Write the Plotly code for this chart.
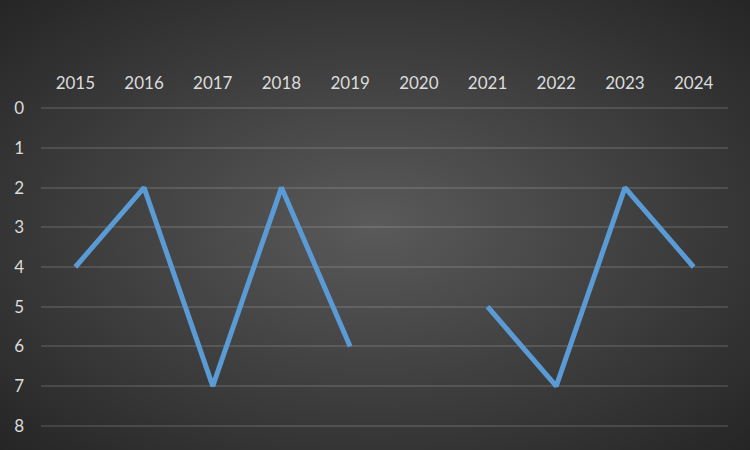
import plotly.graph_objects as go
import base64

years = ["2015", "2016", "2017", "2018", "2019", "2020", "2021", "2022", "2023", "2024"]
values = [4, 2, 7, 2, 6, None, 5, 7, 2, 4]
y_ticks = [0, 1, 2, 3, 4, 5, 6, 7, 8]

W, H = 750, 450
L, R, T, B = 41, 22, 107, 23
pw, ph = W - L - R, H - T - B

svg = f'''<svg xmlns="http://www.w3.org/2000/svg" width="{W}" height="{H}" viewBox="0 0 {W} {H}" preserveAspectRatio="none">
<defs><radialGradient id="g" cx="50%" cy="50%" r="75%" fx="50%" fy="50%">
<stop offset="0%" stop-color="#5a5a5a"/><stop offset="100%" stop-color="#222222"/></radialGradient></defs>
<rect width="{W}" height="{H}" fill="url(#g)"/></svg>'''
uri = "data:image/svg+xml;base64," + base64.b64encode(svg.encode()).decode()

fig = go.Figure()
fig.add_trace(go.Scatter(
    x=years, y=values, mode="lines",
    line=dict(color="#5B9BD5", width=5),
    connectgaps=False, hoverinfo="skip",
))

fig.update_layout(
    width=W, height=H,
    margin=dict(l=L, r=R, t=T, b=B, pad=0),
    paper_bgcolor="#303030",
    plot_bgcolor="rgba(0,0,0,0)",
    showlegend=False,
    font=dict(family="Lato, Open Sans, sans-serif", size=17, color="#dcdcdc"),
    images=[dict(source=uri, xref="paper", yref="paper",
                 x=-L / pw, y=1 + T / ph, sizex=W / pw, sizey=H / ph,
                 xanchor="left", yanchor="top", sizing="stretch", layer="below")],
    xaxis=dict(side="top", type="category", range=[-0.5, 9.5],
               showgrid=False, zeroline=False, showline=False,
               ticks="", ticklabelstandoff=14),
    yaxis=dict(range=[8.03, -0.03], tickvals=y_ticks, showgrid=True,
               gridcolor="rgba(255,255,255,0.12)", gridwidth=2,
               zeroline=False, showline=False, ticks="", ticklabelstandoff=16),
)

fig.write_html("out.html", config={"displayModeBar": False},
               post_script="document.body.style.margin='0';document.body.style.padding='0';")
